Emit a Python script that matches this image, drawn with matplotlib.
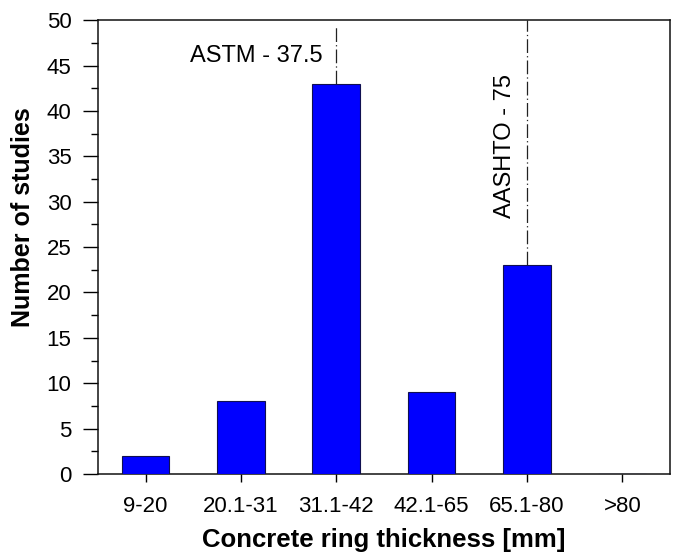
#!/usr/bin/env python3
"""Bar chart of concrete ring thickness across studies."""

import matplotlib

matplotlib.use("Agg")

import matplotlib.pyplot as plt
from matplotlib.ticker import MultipleLocator

plt.rcParams["font.family"] = ["Liberation Sans", "DejaVu Sans"]

categories = ["9-20", "20.1-31", "31.1-42", "42.1-65", "65.1-80", ">80"]
counts = [2, 8, 43, 9, 23, 0]

# standard thickness markers: label, category index, where the line starts
standards = ["ASTM - 37.5", "AASHTO - 75"]
standard_idx = [2, 4]
standard_top = [49.5, 50]

fig = plt.figure(figsize=(6.81, 5.59), dpi=100)
ax = fig.add_axes([0.1439, 0.152, 0.8399, 0.812])

x = list(range(len(categories)))
ax.bar(x, counts, width=0.5, color="#0000ff", edgecolor="#101050",
       linewidth=0.8, zorder=3)

for i, top in zip(standard_idx, standard_top):
    ax.plot([i, i], [counts[i], top], color="#222222", linewidth=0.9,
            dashes=(11, 2.5, 1, 2.5), zorder=2)

ax.text(standard_idx[0] - 0.14, 46.1, standards[0], ha="right", va="center",
        fontsize=17)
ax.text(standard_idx[1] - 0.12, 36.1, standards[1], ha="right", va="center",
        rotation=90, fontsize=17)

ax.set_xlim(-0.5, len(categories) - 0.5)
ax.set_ylim(0, 50)
ax.set_xticks(x)
ax.set_xticklabels(categories)
ax.yaxis.set_major_locator(MultipleLocator(5))
ax.yaxis.set_minor_locator(MultipleLocator(2.5))

ax.tick_params(axis="y", which="major", direction="out", length=11, width=1.0,
               pad=8, labelsize=16, right=False)
ax.tick_params(axis="y", which="minor", direction="out", length=5, width=1.0,
               right=False)
ax.tick_params(axis="x", which="major", direction="out", length=6, width=1.0,
               pad=10, labelsize=16, top=False)

for spine in ax.spines.values():
    spine.set_linewidth(1.1)
    spine.set_color("#111111")

ax.set_xlabel("Concrete ring thickness [mm]", fontsize=18.5, fontweight="bold",
              labelpad=8)
ax.set_ylabel("Number of studies", fontsize=18, fontweight="bold")
ax.yaxis.set_label_coords(-0.11, 0.566)

fig.savefig("out.png", dpi=100)
